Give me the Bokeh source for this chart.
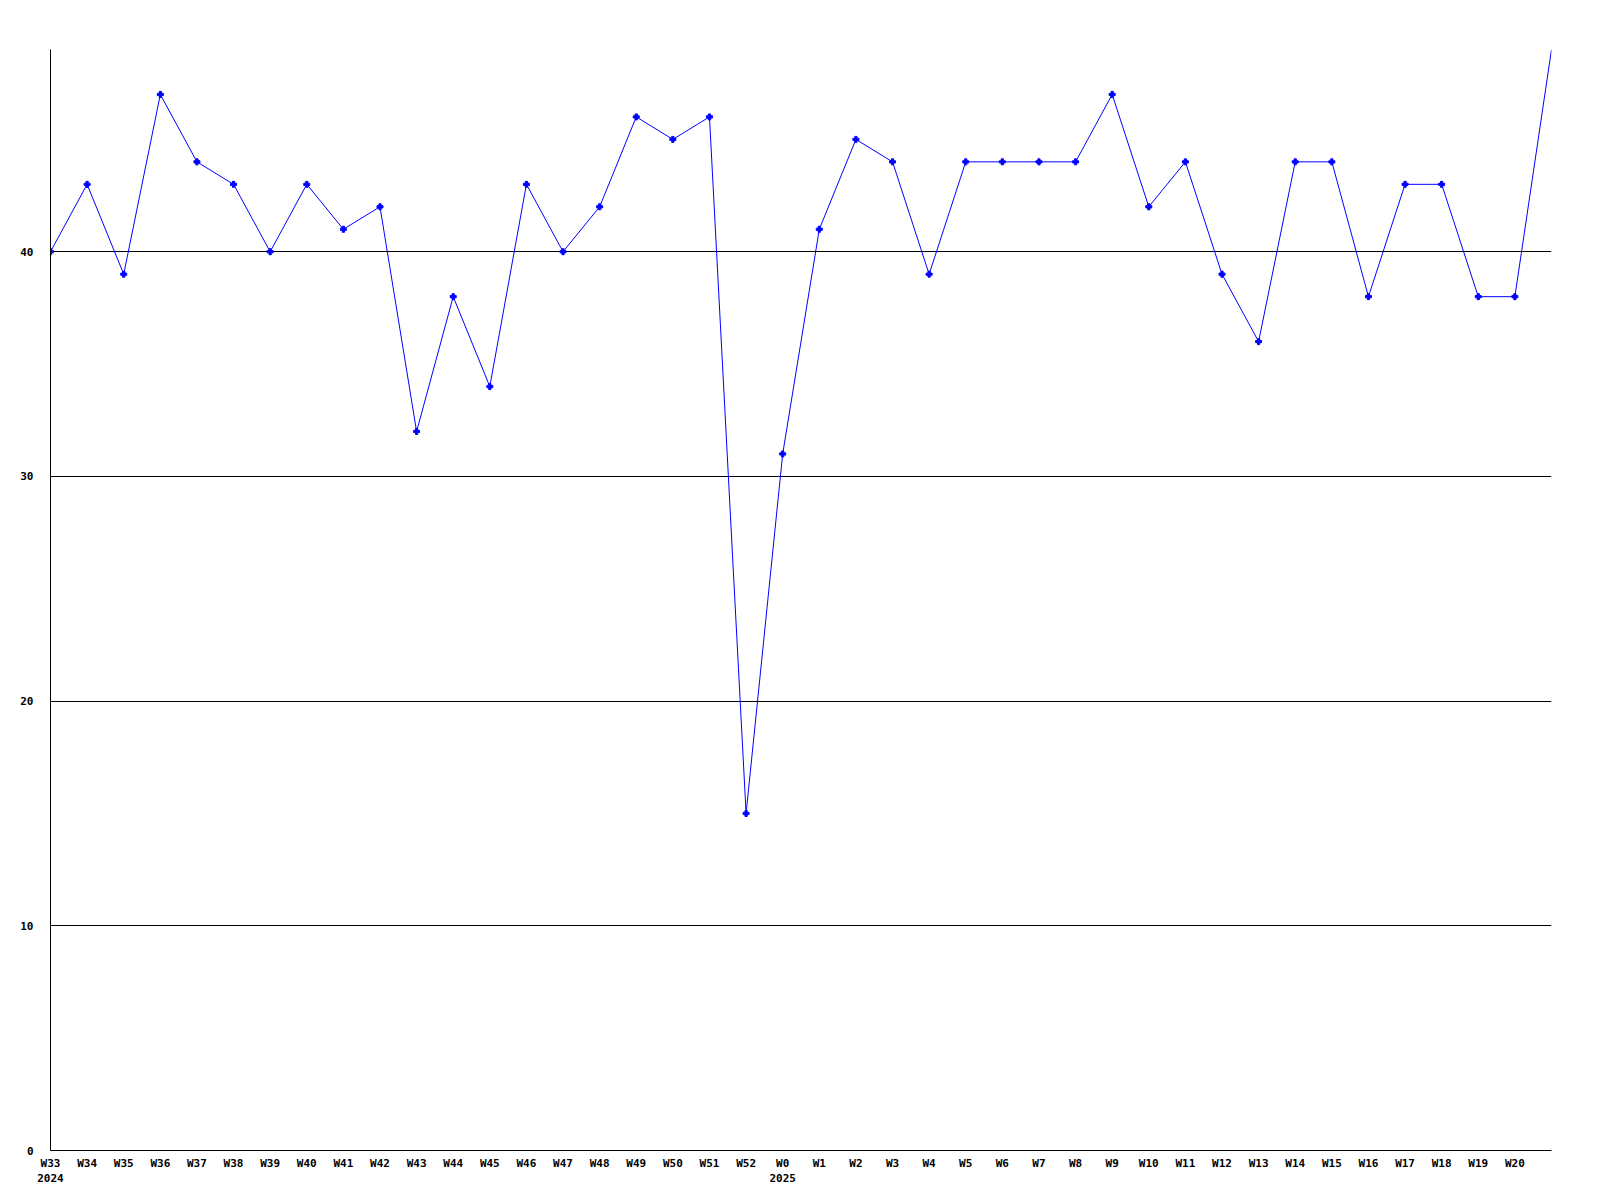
from bokeh.plotting import figure
from bokeh.models import FixedTicker, Range1d
from bokeh.embed import file_html
from bokeh.resources import INLINE

weeks = ["W33", "W34", "W35", "W36", "W37", "W38", "W39", "W40", "W41", "W42",
         "W43", "W44", "W45", "W46", "W47", "W48", "W49", "W50", "W51", "W52",
         "W0", "W1", "W2", "W3", "W4", "W5", "W6", "W7", "W8", "W9",
         "W10", "W11", "W12", "W13", "W14", "W15", "W16", "W17", "W18", "W19",
         "W20", "W21"]
years = {"W33": "2024", "W0": "2025"}
values = [40, 43, 39, 47, 44, 43, 40, 43, 41, 42,
          32, 38, 34, 43, 40, 42, 46, 45, 46, 15,
          31, 41, 45, 44, 39, 44, 44, 44, 44, 47,
          42, 44, 39, 36, 44, 44, 38, 43, 43, 38,
          38, 49]
y_ticks = [0, 10, 20, 30, 40]

x = list(range(len(weeks)))

p = figure(width=1592, height=1192, output_backend="svg", toolbar_location=None,
           x_range=Range1d(0, len(weeks) - 1), y_range=Range1d(0, 49),
           min_border_left=50, min_border_right=41, min_border_top=49, min_border_bottom=42)
p.outline_line_color = None
p.background_fill_color = "white"
p.border_fill_color = "white"

p.line(x, values, line_color="#0000ff", line_width=1)
p.scatter(x[:-1], values[:-1], marker="plus", size=6, fill_color="#0000ff", line_color="#0000ff")

labels = {}
for i, w in enumerate(weeks[:-1]):
    labels[i] = w + ("\n" + years[w] if w in years else "")

p.xaxis.ticker = FixedTicker(ticks=list(range(len(weeks) - 1)))
p.xaxis.major_label_overrides = labels
p.yaxis.ticker = FixedTicker(ticks=y_ticks)

for ax in (p.xaxis[0], p.yaxis[0]):
    ax.axis_line_color = "black"
    ax.axis_line_width = 1
    ax.major_tick_line_color = None
    ax.minor_tick_line_color = None
    ax.major_tick_out = 0
    ax.major_tick_in = 0
    ax.major_label_text_font = "DejaVu Sans Mono"
    ax.major_label_text_font_style = "bold"
    ax.major_label_text_font_size = "11px"
    ax.major_label_text_color = "black"

p.xaxis.major_label_standoff = 6
p.yaxis.major_label_standoff = 17

p.xgrid.grid_line_color = None
p.ygrid.grid_line_color = "black"
p.ygrid.grid_line_width = 1

open("out.html", "w").write(file_html(p, INLINE))
